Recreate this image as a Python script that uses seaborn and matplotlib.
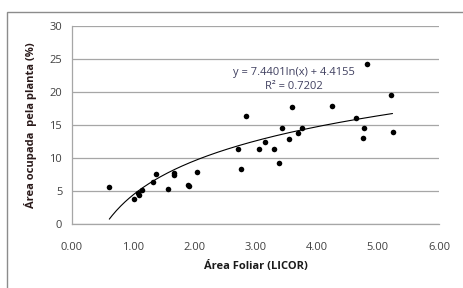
import numpy as np
import pandas as pd
from matplotlib import pyplot as plt
from matplotlib.patches import Rectangle
import seaborn as sns

# leaf area (LICOR) vs. area occupied by the plant (%)
area_foliar = [0.61, 1.01, 1.08, 1.09, 1.15, 1.32, 1.37, 1.57, 1.66, 1.66, 1.90, 1.91, 2.04,
               2.71, 2.77, 2.85, 3.05, 3.15, 3.30, 3.38, 3.44, 3.55, 3.59, 3.70, 3.76,
               4.25, 4.64, 4.76, 4.77, 4.83, 5.21, 5.24]
area_ocupada = [5.6, 3.8, 4.7, 4.4, 5.1, 6.3, 7.6, 5.3, 7.8, 7.5, 5.9, 5.8, 7.9,
                11.4, 8.4, 16.4, 11.3, 12.5, 11.4, 9.2, 14.5, 12.9, 17.8, 13.8, 14.5,
                17.9, 16.0, 13.0, 14.5, 24.3, 19.5, 13.9]

# logarithmic trendline shown in the chart
coef_a = 7.4401
coef_b = 4.4155
r2 = 0.7202

x_ticks = [0, 1, 2, 3, 4, 5, 6]
y_ticks = [0, 5, 10, 15, 20, 25, 30]

df = pd.DataFrame({'x': area_foliar, 'y': area_ocupada})
xs = np.linspace(min(area_foliar), max(area_foliar), 200)
trend = pd.DataFrame({'x': xs, 'y': coef_a * np.log(xs) + coef_b})

sns.set_style("white")
plt.rcParams['font.family'] = ['Open Sans', 'DejaVu Sans']

fig = plt.figure(figsize=(4.63, 2.88), dpi=100)
ax = fig.add_axes([72 / 463, 1 - 224 / 288, (439 - 72) / 463, (224 - 26) / 288])

# outer chart frame (extends past the image edges)
fig.patches.append(Rectangle((7 / 463, -0.2), 1.2, 1 - 12 / 288 + 0.2,
                             transform=fig.transFigure, fill=False,
                             edgecolor='#8c8c8c', linewidth=1.0))

sns.lineplot(data=trend, x='x', y='y', ax=ax, color='black', linewidth=0.8)
sns.scatterplot(data=df, x='x', y='y', ax=ax, color='black', s=16,
                edgecolor='black', linewidth=0, zorder=3)

ax.set_xlim(0, 6)
ax.set_ylim(0, 30)
ax.set_xticks(x_ticks)
ax.set_xticklabels([f"{t:.2f}" for t in x_ticks])
ax.set_yticks(y_ticks)
ax.yaxis.grid(True, color='#a6a6a6', linewidth=0.9)
ax.set_axisbelow(True)

for side in ['top', 'right']:
    ax.spines[side].set_visible(False)
for side in ['left', 'bottom']:
    ax.spines[side].set_color('#a6a6a6')
    ax.spines[side].set_linewidth(0.9)

ax.tick_params(axis='both', direction='out', length=3, width=0.9, color='#a6a6a6',
               labelsize=8, labelcolor='#404040', pad=4)
ax.tick_params(axis='x', pad=10)

ax.set_xlabel("Área Foliar (LICOR)", fontsize=8, fontweight='bold', color='#1a1a1a', labelpad=6)
ax.set_ylabel("Área ocupada  pela planta (%)", fontsize=8, fontweight='bold', color='#2a1a1a', labelpad=9)

ax.text(3.63, 23.0, f"y = {coef_a:.4f}ln(x) + {coef_b:.4f}", fontsize=8,
        color='#404060', ha='center', va='center')
ax.text(3.63, 20.8, f"R² = {r2:.4f}", fontsize=8, color='#404060', ha='center', va='center')

fig.savefig("out.png", dpi=100)
